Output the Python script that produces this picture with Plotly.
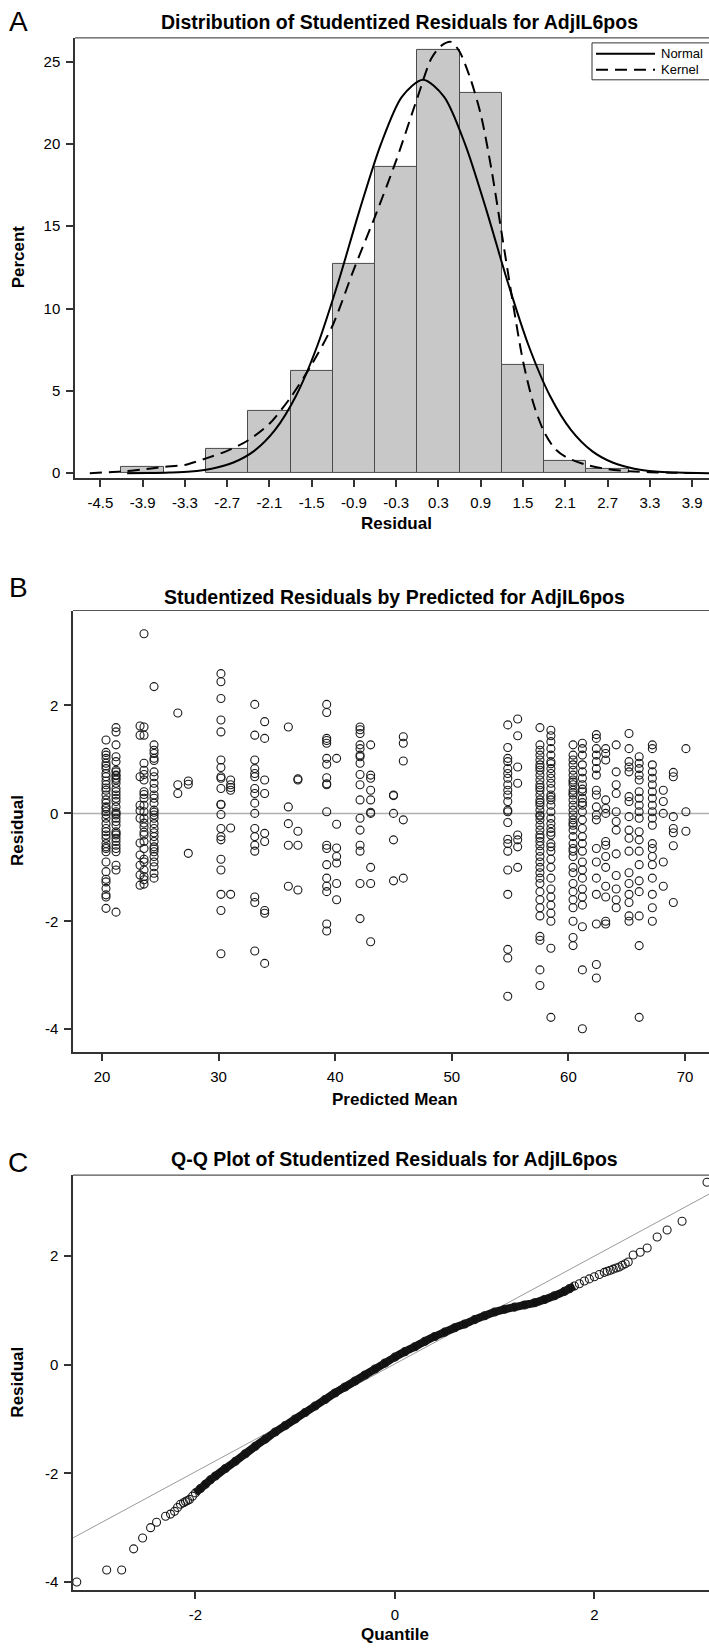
import plotly.graph_objects as go

W, H = 709, 1648
FONT = "Liberation Sans, Arial, sans-serif"

# ---------------- Panel A: distribution of studentized residuals ----------------
hist_mid = [-3.9, -2.7, -2.1, -1.5, -0.9, -0.3, 0.3, 0.9, 1.5, 2.1, 2.7]
hist_pct = [0.35, 1.5, 3.8, 6.2, 12.7, 18.6, 25.7, 23.1, 6.6, 0.75, 0.25]

normal_x = [-4.12, -3.82, -3.52, -3.22, -2.92, -2.62, -2.32, -2.02, -1.72, -1.42, -1.12, -0.82,
            -0.52, -0.22, 0.08, 0.38, 0.68, 0.98, 1.28, 1.58, 1.88, 2.18, 2.48, 2.78, 3.08, 3.38,
            3.68, 3.98, 4.14]
normal_y = [0.0, 0.01, 0.04, 0.1, 0.27, 0.63, 1.34, 2.63, 4.72, 7.74, 11.64, 15.98, 19.96, 22.86,
            23.9, 22.86, 19.96, 15.98, 11.64, 7.74, 4.72, 2.63, 1.34, 0.63, 0.27, 0.1, 0.04, 0.01, 0.0]

kernel_x = [-4.65, -4.2, -3.9, -3.6, -3.3, -3.0, -2.7, -2.4, -2.1, -1.8, -1.5, -1.2, -0.9, -0.6,
            -0.3, 0.0, 0.2, 0.35, 0.48, 0.6, 0.75, 0.9, 1.05, 1.2, 1.35, 1.5, 1.65, 1.8, 1.95,
            2.1, 2.4, 2.7, 3.0, 3.3, 3.6, 4.05]
kernel_y = [0.0, 0.1, 0.22, 0.38, 0.5, 0.9, 1.35, 2.0, 3.0, 4.6, 6.6, 9.0, 12.4, 15.6,
            19.0, 22.8, 25.2, 26.0, 26.2, 25.6, 24.0, 21.8, 18.5, 14.5, 10.5, 6.8, 4.2, 2.5, 1.5,
            1.0, 0.5, 0.25, 0.12, 0.06, 0.03, 0.0]

a_xticks = [-4.5, -3.9, -3.3, -2.7, -2.1, -1.5, -0.9, -0.3, 0.3, 0.9, 1.5, 2.1, 2.7, 3.3, 3.9]
a_xtext = ["-4.5", "-3.9", "-3.3", "-2.7", "-2.1", "-1.5", "-0.9", "-0.3",
           "0.3", "0.9", "1.5", "2.1", "2.7", "3.3", "3.9"]
a_yticks = [0, 5, 10, 15, 20, 25]
legend_names = ["Normal", "Kernel"]

# ---------------- Panel B: residuals by predicted mean ----------------
b_pred = [20.34, 21.2, 23.26, 23.6, 24.46, 26.5, 27.4, 30.2, 31.03, 33.1, 33.95, 35.98, 36.8,
          39.27, 40.12, 42.13, 43.04, 45.0, 45.84,
          54.8, 55.65, 57.56, 58.5, 60.4, 61.2, 62.4, 63.2, 64.1, 65.2, 66.07, 67.2, 68.14, 69.0, 70.08]
b_resid = [
    [1.36, 1.13, 1.08, 1.02, 0.93, 0.83, 0.74, 0.68, 0.60, 0.53, 0.43, 0.34, 0.25, 0.19, 0.12, 0.03,
     -0.02, -0.09, -0.19, -0.28, -0.34, -0.46, -0.56, -0.65, -0.71, -0.90, -1.08, -1.27, -1.39,
     -1.51, -1.76, 0.88, 0.47, 0.09, -0.40, -0.62, -1.22, -1.55],
    [1.59, 1.51, 1.27, 1.05, 0.96, 0.80, 0.77, 0.71, 0.65, 0.56, 0.46, 0.40, 0.34, 0.28, 0.22, 0.12,
     0.03, -0.03, -0.09, -0.15, -0.22, -0.34, -0.40, -0.46, -0.59, -0.71, -0.96, -1.05, -1.83,
     0.70, 0.62, 0.0, -0.37, -0.52, -0.65],
    [1.62, 1.45, 0.68, 0.15, -0.09, -0.77, -0.96, -1.14, -1.33, 0.05, -0.55],
    [3.33, 1.60, 1.45, 0.93, 0.80, 0.62, 0.40, 0.28, 0.15, 0.03, -0.09, -0.25, -0.40, -0.52, -0.65,
     -0.90, -1.05, -1.17, -1.23, -1.31, 0.72, 0.35, -0.18, -0.35, -0.85],
    [2.35, 1.27, 1.17, 1.11, 1.02, 0.77, 0.68, 0.56, 0.46, 0.34, 0.28, 0.19, 0.06, -0.03, -0.09,
     -0.19, -0.28, -0.43, -0.52, -0.62, -0.71, -0.80, -0.90, -0.99, -1.11, -1.20, 0.98, 0.02,
     -0.36, -0.66],
    [1.86, 0.53, 0.37],
    [0.60, 0.54, -0.74],
    [2.59, 2.44, 2.13, 1.73, 1.51, 0.99, 0.85, 0.68, 0.46, 0.16, -0.02, -0.28, -0.43, -0.49, -0.85,
     -1.05, -1.5, -1.8, -2.6, 0.65, 0.17],
    [0.62, 0.53, 0.43, -0.27, -1.5, 0.48],
    [2.02, 1.45, 0.99, 0.83, 0.74, 0.68, 0.46, 0.37, 0.19, 0.0, -0.28, -0.43, -0.59, -0.7, -1.55,
     -1.65, -2.55],
    [1.70, 1.39, 0.62, 0.37, -0.37, -0.52, -1.85, -2.78, -1.8],
    [1.60, 0.12, -0.19, -0.59, -1.35],
    [0.62, -0.33, -0.59, -1.42, 0.64],
    [2.02, 1.87, 1.39, 1.30, 1.02, 0.91, 0.66, 0.53, 0.03, -0.59, -0.65, -0.95, -1.2, -1.35, -1.45,
     -2.05, -2.18, 1.35, 0.55],
    [1.02, -0.20, -0.64, -0.8, -0.92, -1.3, -1.6],
    [1.60, 1.48, 1.27, 1.20, 1.08, 0.93, 0.72, 0.53, 0.25, -0.09, -0.31, -0.59, -0.7, -1.3, -1.95,
     1.55, 1.05],
    [1.27, 0.71, 0.65, 0.43, 0.25, 0.0, -1.0, -1.3, -2.38, 0.02],
    [0.34, 0.33, 0.0, -0.49, -1.25],
    [1.42, 1.30, 0.97, -0.12, -1.2],
    [1.64, 1.22, 1.02, 0.96, 0.83, 0.74, 0.65, 0.53, 0.43, 0.34, 0.22, 0.06, 0.03, -0.17, -0.48,
     -0.56, -0.7, -1.05, -1.5, -2.52, -2.68, -3.39],
    [1.75, 1.44, 0.86, 0.56, -0.40, -0.49, -0.62, -1.0],
    [1.59, 1.27, 1.17, 1.08, 0.99, 0.90, 0.80, 0.71, 0.62, 0.53, 0.43, 0.34, 0.25, 0.15, 0.06,
     -0.03, -0.12, -0.22, -0.31, -0.40, -0.52, -0.6, -0.7, -0.8, -0.9, -1.0, -1.1, -1.2, -1.3,
     -1.45, -1.6, -1.75, -1.9, -2.28, -2.35, -2.9, -3.19, 0.2, 0.48, 0.85, -0.05, -0.45],
    [1.54, 1.44, 1.33, 1.20, 1.08, 0.96, 0.83, 0.74, 0.65, 0.56, 0.46, 0.34, 0.25, 0.15, 0.03,
     -0.09, -0.19, -0.28, -0.40, -0.56, -0.7, -0.85, -1.0, -1.2, -1.4, -1.55, -1.7, -1.85, -2.0,
     -2.5, -3.78, 0.92, 0.3, -0.35, -0.62],
    [1.27, 1.08, 0.99, 0.90, 0.80, 0.71, 0.62, 0.53, 0.43, 0.34, 0.25, 0.15, 0.06, -0.03, -0.12,
     -0.22, -0.31, -0.43, -0.56, -0.65, -0.8, -1.0, -1.1, -1.3, -1.45, -1.6, -1.75, -2.0, -2.3,
     -2.45, 0.38, 0.58, -0.18, -0.7],
    [1.30, 1.20, 1.08, 0.90, 0.77, 0.65, 0.53, 0.40, 0.28, 0.15, 0.03, -0.12, -0.28, -0.43, -0.56,
     -0.7, -0.9, -1.05, -1.2, -1.4, -1.55, -1.7, -2.1, -2.9, -3.99, 0.45, 0.2],
    [1.46, 1.39, 1.20, 1.08, 0.96, 0.83, 0.71, 0.43, 0.34, 0.12, -0.03, -0.12, -0.65, -0.9, -1.2,
     -1.5, -2.05, -2.8, -3.05],
    [1.20, 1.11, 0.99, 0.25, 0.09, 0.0, -0.52, -0.59, -0.8, -1.0, -1.35, -1.55, -2.0, -2.05],
    [1.27, 0.77, 0.53, 0.37, 0.03, -0.15, -0.31, -0.75, -1.15, -1.4, -1.6, -1.75],
    [1.48, 1.20, 0.96, 0.86, 0.77, 0.31, 0.22, -0.06, -0.31, -0.46, -0.7, -1.1, -1.3, -1.5, -1.65,
     -1.9, -2.0],
    [1.05, 0.93, 0.83, 0.71, 0.62, 0.40, 0.28, 0.15, 0.03, -0.09, -0.34, -0.49, -0.7, -0.95, -1.25,
     -1.45, -1.9, -2.45, -3.78],
    [1.27, 1.20, 0.90, 0.77, 0.65, 0.53, 0.40, 0.28, 0.15, 0.03, -0.09, -0.22, -0.56, -0.65, -0.8,
     -0.95, -1.2, -1.5, -1.75, -2.0],
    [0.43, 0.22, 0.0, -0.9, -1.35],
    [0.76, 0.68, -0.06, -0.28, -0.36, -0.6, -1.65],
    [1.20, 0.03, -0.33],
]
b_xticks = [20, 30, 40, 50, 60, 70]
b_yticks = [-4, -2, 0, 2]

# ---------------- Panel C: Q-Q plot ----------------
qq_quantile = [-3.19, -2.89, -2.74, -2.62, -2.53, -2.45, -2.39, -2.30, -2.25, -2.21, -2.18, -2.15,
               -2.12, -2.10, -2.08, -2.06, -2.03, -2.0, -1.95, -1.9, -1.85, -1.8, -1.7, -1.6,
               -1.5, -1.4, -1.3, -1.2, -1.1, -1.0, -0.9, -0.8,
               -0.7, -0.6, -0.5, -0.4, -0.3, -0.2, -0.1, 0.0, 0.1, 0.2, 0.3, 0.4, 0.5, 0.6, 0.7,
               0.8, 0.9, 1.0, 1.1, 1.2, 1.3, 1.4, 1.5, 1.6, 1.7, 1.75, 1.8, 1.85, 1.9, 1.95, 2.0,
               2.05, 2.1, 2.13, 2.16, 2.19, 2.22, 2.25, 2.28, 2.31, 2.34, 2.39, 2.46, 2.53, 2.63,
               2.73, 2.88, 3.13]
qq_resid = [-4.0, -3.78, -3.78, -3.39, -3.19, -3.0, -2.90, -2.79, -2.75, -2.70, -2.63, -2.57,
            -2.54, -2.52, -2.50, -2.48, -2.42, -2.36, -2.28, -2.2, -2.12, -2.05, -1.91, -1.78,
            -1.64, -1.5, -1.37, -1.24, -1.12, -1.0, -0.88, -0.76,
            -0.64, -0.52, -0.41, -0.3, -0.19, -0.08, 0.03, 0.14, 0.24, 0.33, 0.43, 0.52, 0.6,
            0.68, 0.75, 0.83, 0.9, 0.97, 1.02, 1.06, 1.1, 1.14, 1.2, 1.27, 1.35, 1.40, 1.45, 1.49,
            1.54, 1.58, 1.62, 1.66, 1.7, 1.72, 1.74, 1.76, 1.78, 1.80, 1.83, 1.86, 1.89, 2.02,
            2.07, 2.15, 2.35, 2.48, 2.64, 3.36]
qq_ref_q = [-3.26, 3.15]
qq_ref_r = [-3.22, 3.14]
c_xticks = [-2, 0, 2]
c_yticks = [-4, -2, 0, 2]


def ylo(px):  # pixel row -> paper fraction
    return 1 - px / H


fig = go.Figure()

# Panel A traces
fig.add_trace(go.Bar(x=hist_mid, y=hist_pct, width=0.6, xaxis="x", yaxis="y",
                     marker=dict(color="#c8c8c8", line=dict(color="#4a4a4a", width=1)),
                     showlegend=False))
normal_line = dict(color="black", width=2)
kernel_line = dict(color="black", width=2, dash="12px,7px")
fig.add_trace(go.Scatter(x=normal_x, y=normal_y, mode="lines", name=legend_names[0], xaxis="x",
                         yaxis="y", line=dict(normal_line, shape="spline", smoothing=0.8),
                         showlegend=False))
fig.add_trace(go.Scatter(x=kernel_x, y=kernel_y, mode="lines", name=legend_names[1], xaxis="x",
                         yaxis="y", line=dict(kernel_line, shape="spline", smoothing=0.8),
                         showlegend=False))

# Panel B
bx, by = [], []
for p, rs in zip(b_pred, b_resid):
    for r in rs:
        bx.append(p)
        by.append(r)
marker_open = dict(symbol="circle-open", size=8, color="#1a1a1a", line=dict(width=1.1))
fig.add_trace(go.Scatter(x=bx, y=by, mode="markers", xaxis="x2", yaxis="y2",
                         marker=marker_open, showlegend=False))

# Panel C
fig.add_trace(go.Scatter(x=qq_ref_q, y=qq_ref_r, mode="lines", xaxis="x3", yaxis="y3",
                         line=dict(color="#9a9a9a", width=1), showlegend=False))
band_q = [q for q in qq_quantile if -2.0 <= q <= 1.8]
band_r = [r for q, r in zip(qq_quantile, qq_resid) if -2.0 <= q <= 1.8]
fig.add_trace(go.Scatter(x=band_q, y=band_r, mode="lines", xaxis="x3", yaxis="y3",
                         line=dict(color="#111", width=8, shape="spline"), showlegend=False))
fig.add_trace(go.Scatter(x=qq_quantile, y=qq_resid, mode="markers", xaxis="x3", yaxis="y3",
                         marker=marker_open, showlegend=False))

axis_common = dict(showline=True, linecolor="#333", linewidth=1.5, ticks="outside", ticklen=7,
                   tickwidth=1.5, tickcolor="#333", showgrid=False, zeroline=False,
                   tickfont=dict(family=FONT, size=15, color="black"), ticklabelstandoff=3)

shapes = [dict(type="line", xref="x2 domain", x0=0, x1=1, yref="y2", y0=0, y1=0,
               line=dict(color="#b0b0b0", width=1.5), layer="below")]
# top frame lines of the three plot boxes
for xr, yr in (("x", "y"), ("x2", "y2"), ("x3", "y3")):
    shapes.append(dict(type="line", xref=xr + " domain", yref=yr + " domain", x0=0, x1=1,
                       y0=1, y1=1, line=dict(color="#555", width=1.2)))

# custom legend box for panel A (partly cut by the right edge as in the original)
lg_left, lg_top, lg_bot = 592, 43, 80
shapes.append(dict(type="rect", xref="paper", yref="paper", x0=lg_left / W, x1=(W + 5) / W,
                   y0=ylo(lg_bot), y1=ylo(lg_top), line=dict(color="#333", width=1),
                   fillcolor="white"))
row_y = [54, 70]
for ry, ln in zip(row_y, (normal_line, kernel_line)):
    shapes.append(dict(type="line", xref="paper", yref="paper", x0=596 / W, x1=655 / W,
                       y0=ylo(ry), y1=ylo(ry), line=ln))

fig.update_layout(
    width=W, height=H, margin=dict(l=0, r=0, t=0, b=0),
    paper_bgcolor="white", plot_bgcolor="white",
    bargap=0, showlegend=False,
    xaxis=dict(axis_common, domain=[75 / W, 1], range=[-4.86, 4.14], anchor="y",
               tickvals=a_xticks, ticktext=a_xtext),
    yaxis=dict(axis_common, domain=[ylo(479), ylo(38)], range=[-0.285, 26.44], anchor="x",
               tickvals=a_yticks),
    xaxis2=dict(axis_common, domain=[73 / W, 1], range=[17.51, 72.06], anchor="y2",
                tickvals=b_xticks),
    yaxis2=dict(axis_common, domain=[ylo(1055), ylo(612)], range=[-4.43, 3.76], anchor="x2",
                tickvals=b_yticks, ticktext=[str(v) for v in b_yticks]),
    xaxis3=dict(axis_common, domain=[73 / W, 1], range=[-3.228, 3.15], anchor="y3",
                tickvals=c_xticks, ticktext=[str(v) for v in c_xticks]),
    yaxis3=dict(axis_common, domain=[ylo(1594), ylo(1178)], range=[-4.15, 3.49], anchor="x3",
                tickvals=c_yticks, ticktext=[str(v) for v in c_yticks]),
    shapes=shapes,
)

ann = []
def txt(text, x, y, size, bold=False, angle=0, xanchor="center"):
    ann.append(dict(text=("<b>%s</b>" % text) if bold else text, x=x / W, y=ylo(y),
                    xref="paper", yref="paper", showarrow=False, xanchor=xanchor,
                    yanchor="middle", textangle=angle,
                    font=dict(family=FONT, size=size, color="black")))

# legend labels
for ry, nm in zip(row_y, legend_names):
    txt(nm, 659, ry, 13, xanchor="left")
# panel letters
txt("A", 18, 22, 28)
txt("B", 18, 589, 28)
txt("C", 18, 1165, 28)
# titles
txt("Distribution of Studentized Residuals for AdjIL6pos", 399, 22, 19.5, bold=True)
txt("Studentized Residuals by Predicted for AdjIL6pos", 394, 598, 19.5, bold=True)
txt("Q-Q Plot of Studentized Residuals for AdjIL6pos", 394, 1162, 19.5, bold=True)
# axis titles
txt("Residual", 396, 525, 17, bold=True)
txt("Percent", 18, 258, 17, bold=True, angle=-90)
txt("Predicted Mean", 395, 1102, 17, bold=True)
txt("Residual", 18, 833, 17, bold=True, angle=-90)
txt("Quantile", 395, 1638, 17, bold=True)
txt("Residual", 18, 1386, 17, bold=True, angle=-90)
fig.update_layout(annotations=ann)

fig.write_html("out.html")
